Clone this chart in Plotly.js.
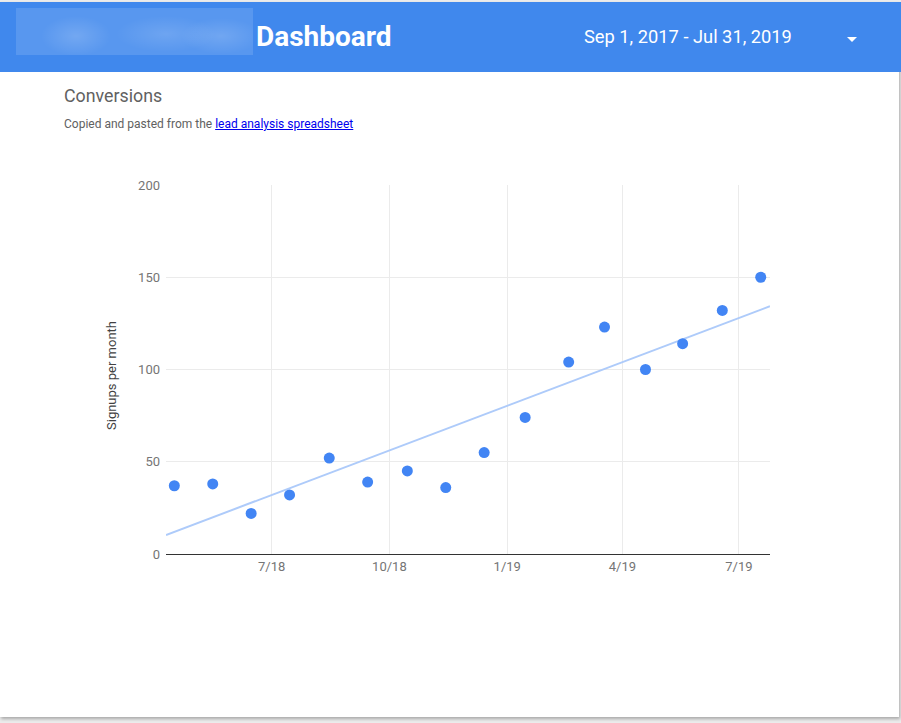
<!DOCTYPE html>
<html>
<head>
<meta charset="utf-8">
<script src="https://cdn.plot.ly/plotly-3.0.1.min.js"></script>
<style>
  html, body { margin: 0; padding: 0; }
  body { width: 901px; height: 723px; background: #ebebeb; position: relative; overflow: hidden; font-family: Roboto, "Noto Sans", Arial, sans-serif; }
  #card { position: absolute; left: 0; top: 2px; width: 899px; height: 715px; background: #fff; box-shadow: 1px 2px 3px rgba(0,0,0,0.28); }
  #header { position: absolute; left: 0; top: 2px; width: 901px; height: 70px; background: #4088ed; z-index: 2; }
  #logo { position: absolute; left: 16px; top: 6px; width: 237px; height: 47px;
    background:
      radial-gradient(ellipse 35px 20px at 60px 28px, rgba(255,255,255,0.16), rgba(255,255,255,0) 100%),
      radial-gradient(ellipse 50px 18px at 150px 26px, rgba(255,255,255,0.13), rgba(255,255,255,0) 100%),
      radial-gradient(ellipse 40px 18px at 205px 28px, rgba(255,255,255,0.15), rgba(255,255,255,0) 100%),
      rgba(255,255,255,0.13); }
  #dash { position: absolute; left: 256px; top: 21px; font-size: 28px; line-height: 28px; font-weight: 700; color: #fff; white-space: nowrap; }
  #daterange { position: absolute; left: 584px; top: 26px; font-size: 18.3px; line-height: 18px; color: #fff; white-space: nowrap; }
  #caret { position: absolute; left: 847px; top: 35px; width: 0; height: 0; border-left: 5px solid transparent; border-right: 5px solid transparent; border-top: 5px solid #fff; }
  #ctitle { position: absolute; left: 64px; top: 87px; font-size: 17.8px; line-height: 18px; color: #616161; white-space: nowrap; z-index: 2; }
  #csub { position: absolute; left: 64px; top: 118px; font-size: 12px; line-height: 12px; color: #616161; white-space: nowrap; z-index: 2; }
  #csub a { color: #0000ee; text-decoration: underline; }
  #chart { position: absolute; left: 0; top: 0; width: 901px; height: 723px; z-index: 1; }
</style>
</head>
<body>
<div id="card"></div>
<div id="header">
  <div id="logo"></div>
  <div id="dash">Dashboard</div>
  <div id="daterange">Sep 1, 2017 - Jul 31, 2019</div>
  <div id="caret"></div>
</div>
<div id="ctitle">Conversions</div>
<div id="csub">Copied and pasted from the <a href="#">lead analysis spreadsheet</a></div>
<div id="chart"></div>
<script>
// ---- data ----
const months = ['2018-04-16','2018-05-16','2018-06-15','2018-07-15','2018-08-15','2018-09-14',
                '2018-10-15','2018-11-14','2018-12-14','2019-01-15','2019-02-18','2019-03-18',
                '2019-04-19','2019-05-18','2019-06-18','2019-07-18'];
const signups = [37, 38, 22, 32, 52, 39, 45, 36, 55, 74, 104, 123, 100, 114, 132, 150];
const xTickVals = ['2018-07-01','2018-10-01','2019-01-01','2019-04-01','2019-07-01'];
const xTickText = ['7/18','10/18','1/19','4/19','7/19'];
const yTickVals = [0, 50, 100, 150, 200];
const yTickText = ['0','50','100','150','200'];
const xRange = ['2018-04-09 12:00','2019-07-25 06:00'];
const yRange = [0, 200];

// ---- linear trendline (least squares on time) ----
const tms = months.map(d => new Date(d + 'T00:00:00Z').getTime());
const n = tms.length;
const mx = tms.reduce((a,b)=>a+b,0)/n;
const my = signups.reduce((a,b)=>a+b,0)/n;
let sxy = 0, sxx = 0;
for (let i = 0; i < n; i++) { sxy += (tms[i]-mx)*(signups[i]-my); sxx += (tms[i]-mx)*(tms[i]-mx); }
const slope = sxy / sxx;
const intercept = my - slope*mx;
const rangeMs = xRange.map(d => new Date(d.replace(' ', 'T') + ':00Z').getTime());
const trendX = rangeMs.map(t => new Date(t).toISOString());
const trendY = rangeMs.map(t => intercept + slope*t);

const traces = [
  { type: 'scatter', mode: 'lines', x: trendX, y: trendY, line: { color: '#aecbfa', width: 2 }, hoverinfo: 'skip', name: 'Trend' },
  { type: 'scatter', mode: 'markers', x: months, y: signups, marker: { color: '#4285f4', size: 11 }, name: 'Signups', cliponaxis: false }
];

const tickFont = { family: 'Roboto, Arial, sans-serif', size: 13, color: '#757575' };
const layout = {
  width: 901, height: 723,
  margin: { l: 166, r: 131, t: 185, b: 169 },
  paper_bgcolor: 'rgba(0,0,0,0)', plot_bgcolor: 'rgba(0,0,0,0)',
  showlegend: false,
  hovermode: 'closest',
  xaxis: {
    type: 'date', range: xRange, tickvals: xTickVals, ticktext: xTickText,
    showgrid: true, gridcolor: '#ebebeb', gridwidth: 1,
    showline: true, linecolor: '#333333', linewidth: 1,
    zeroline: false, ticks: '', tickfont: tickFont, automargin: false
  },
  yaxis: {
    range: yRange, tickvals: yTickVals, ticktext: yTickText,
    showgrid: true, gridcolor: '#ebebeb', gridwidth: 1,
    showline: false, zeroline: false, ticks: '', tickfont: tickFont, automargin: false,
    ticklabelstandoff: 5
  },
  annotations: [{
    text: 'Signups per month', xref: 'paper', yref: 'paper',
    x: (111 - 166) / 604, y: (554 - 376) / 369, xanchor: 'center', yanchor: 'middle',
    textangle: -90, showarrow: false,
    font: { family: 'Roboto, Arial, sans-serif', size: 13, color: '#424242' }
  }]
};

Plotly.newPlot('chart', traces, layout, { displayModeBar: false, staticPlot: false });
</script>
</body>
</html>
